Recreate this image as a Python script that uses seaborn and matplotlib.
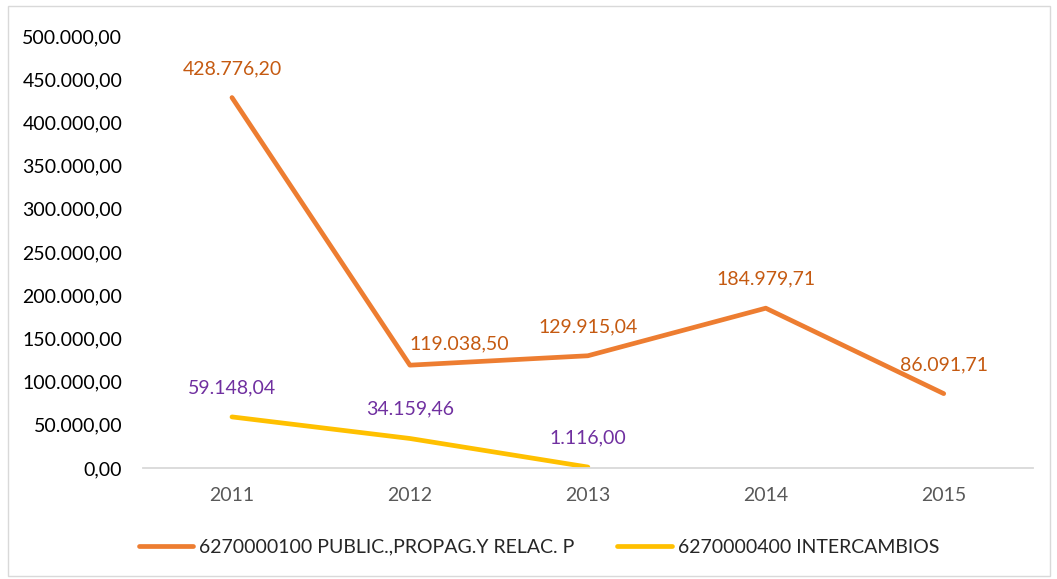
import numpy as np
import pandas as pd
import matplotlib
matplotlib.use('Agg')
import matplotlib.pyplot as plt
import seaborn as sns
from matplotlib.ticker import FuncFormatter
from matplotlib.lines import Line2D
from matplotlib.patches import Rectangle

years = [2011, 2012, 2013, 2014, 2015]
public = [428776.20, 119038.50, 129915.04, 184979.71, 86091.71]
intercambios = [59148.04, 34159.46, 1116.00, np.nan, np.nan]
series_names = ['6270000100 PUBLIC.,PROPAG.Y RELAC. P', '6270000400 INTERCAMBIOS']

sns.set_style('white')
plt.rcParams['font.family'] = ['Lato', 'DejaVu Sans']

def fmt_es(v, dec=2):
    s = f'{v:,.{dec}f}'
    return s.replace(',', 'X').replace('.', ',').replace('X', '.')

df = pd.DataFrame({
    'year': years * 2,
    'value': public + intercambios,
    'serie': [series_names[0]] * 5 + [series_names[1]] * 5,
})

line_colors = ['#ED7D31', '#FFC000']
label_colors = ['#C55A11', '#7030A0']

fig = plt.figure(figsize=(10.57, 5.79), dpi=100)
ax = fig.add_axes([0.1353, 0.1917, 0.8417, 0.7461])

sns.lineplot(data=df, x='year', y='value', hue='serie', palette=line_colors,
             linewidth=3.4, ax=ax, legend=False, solid_capstyle='round')

for si, (vals, c) in enumerate(zip([public, intercambios], label_colors)):
    for i, (x, v) in enumerate(zip(years, vals)):
        if np.isnan(v):
            continue
        # excel nudged the 2012 label of the first series to the right
        if si == 0 and i == 1:
            off, ha = (0, 15), 'left'
        else:
            off, ha = (0, 21), 'center'
        ax.annotate(fmt_es(v), (x, v), xytext=off, textcoords='offset points',
                    ha=ha, va='center', fontsize=14, color=c)

ax.set_xlim(2010.5, 2015.5)
ax.set_ylim(0, 500000)
ax.set_yticks(np.arange(0, 500001, 50000))
ax.yaxis.set_major_formatter(FuncFormatter(lambda v, p: fmt_es(v)))
ax.set_xticks(years)
ax.set_xticklabels([str(y) for y in years])
ax.tick_params(axis='y', labelsize=14, labelcolor='black', length=0, pad=15)
ax.tick_params(axis='x', labelsize=14, labelcolor='#595959', length=0, pad=14)
ax.set_xlabel('')
ax.set_ylabel('')
for s in ['top', 'right', 'left']:
    ax.spines[s].set_visible(False)
ax.spines['bottom'].set_color('#D9D9D9')
ax.spines['bottom'].set_linewidth(1.3)

handles = [Line2D([0], [0], color=c, lw=3.4, solid_capstyle='round') for c in line_colors]
fig.legend(handles, series_names, loc='center', bbox_to_anchor=(0.51, 0.055), ncol=2,
           frameon=False, fontsize=14, handlelength=2.8, handletextpad=0.3, columnspacing=2.2)

fig.patches.append(Rectangle((0.008, 0.005), 0.985, 0.985, transform=fig.transFigure,
                             fill=False, edgecolor='#D9D9D9', linewidth=1))

fig.savefig('out.png', dpi=100)
